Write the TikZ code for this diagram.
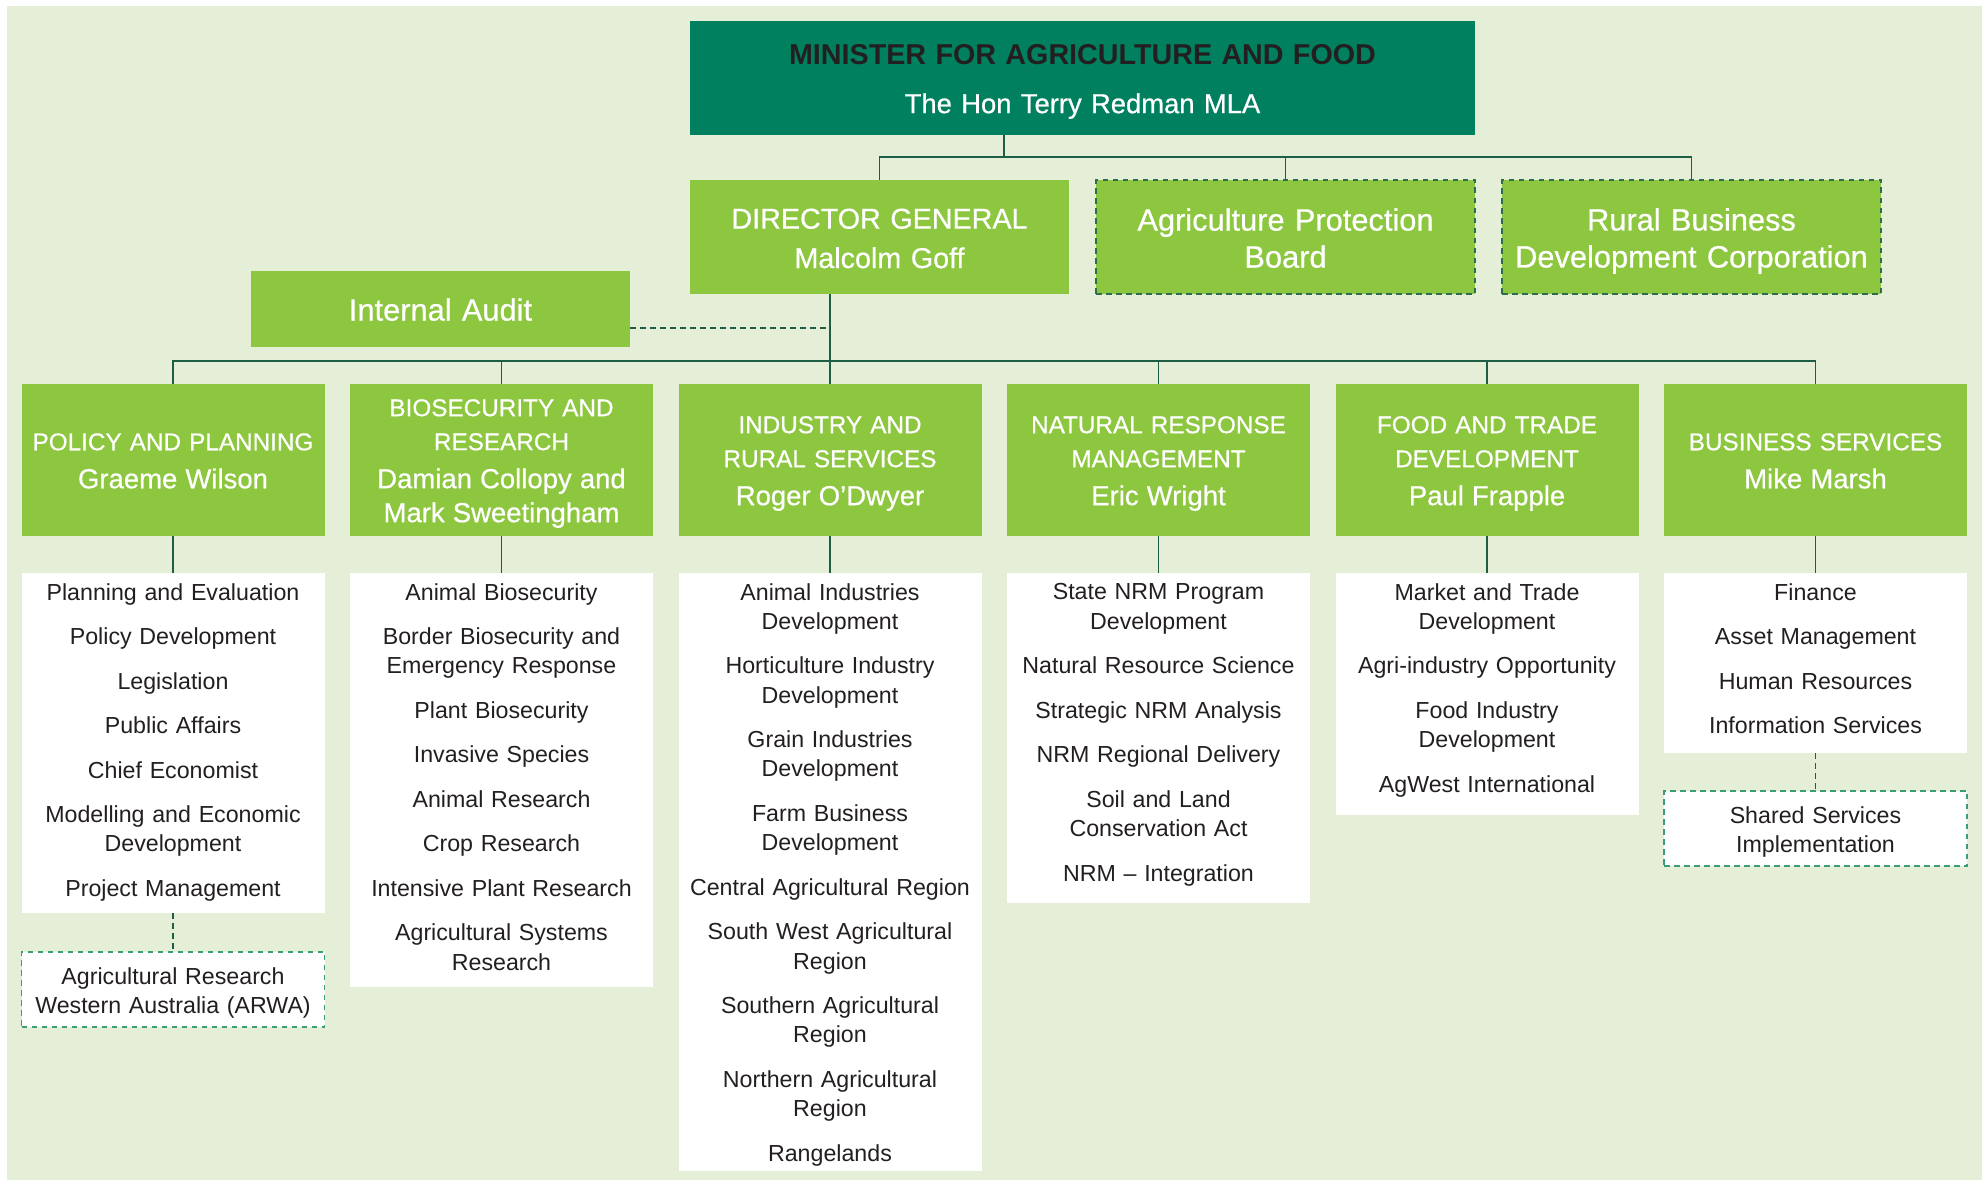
\documentclass[tikz,border=0pt]{standalone}
\usepackage{fontspec}
\setmainfont{Liberation Sans}
\newfontfamily\medfont[FakeBold=0.6]{Liberation Sans}
\usetikzlibrary{calc}

\definecolor{bgc}{HTML}{E5EFD7}
\definecolor{leafgreen}{HTML}{8DC63F}
\definecolor{deepgreen}{HTML}{00805F}
\definecolor{linec}{HTML}{1E5E44}
\definecolor{dashdark}{HTML}{2C6E4E}
\definecolor{dashteal}{HTML}{3A9E74}
\definecolor{inkc}{HTML}{231F20}

% struts: cap height plus descender depth, with a little extra room above the first line
\newcommand\lnstrut{\rule[-0.2em]{0pt}{0.92em}}
\newcommand\firststrut{\rule{0pt}{\dimexpr0.92em+2pt\relax}}
\newcommand\itemgap{\\[15.2pt]}
\newcommand\listfont{\fontsize{23.2}{29.3}\selectfont}
\newcommand\divcapsfont{\medfont\fontsize{24.3}{34}\selectfont}
\newcommand\divnamefont{\medfont\fontsize{27.5}{34}\selectfont}
\newcommand\topfont{\medfont\fontsize{28.7}{39.4}\selectfont}
\newcommand\sidefont{\medfont\fontsize{30.8}{37}\selectfont}

\begin{document}
\begin{tikzpicture}[x=1pt,y=-1pt,
  basebox/.style={rectangle, inner sep=0pt, outer sep=0pt, anchor=north west, align=center},
  minbox/.style={basebox, fill=deepgreen, minimum width=785, minimum height=114, text width=770,
    font=\fontsize{28}{49}\selectfont},
  topbox/.style={basebox, fill=leafgreen, text=white, minimum width=379, minimum height=114, text width=370, font=\topfont},
  sidebox/.style={basebox, fill=leafgreen, text=white, minimum width=379, text width=370, font=\sidefont},
  dashbox/.style={draw=dashdark, line width=1.8pt, dash pattern=on 5.5pt off 4.5pt},
  divbox/.style={basebox, fill=leafgreen, text=white, minimum width=303, minimum height=151.7, text width=296,
    font=\divcapsfont},
  listbox/.style={basebox, fill=white, minimum width=303},
  listtext/.style={rectangle, inner sep=0pt, anchor=north, align=center, text width=300, text=inkc, font=\listfont},
  notebox/.style={basebox, fill=white, draw=dashteal, line width=1.6pt, dash pattern=on 5.5pt off 4.5pt,
    minimum width=303, minimum height=75.5, text width=300, text=inkc, font=\listfont},
  conn/.style={draw=linec, line width=1.8pt},
  dashconn/.style={draw=linec, line width=1.8pt, dash pattern=on 5.5pt off 4.5pt}]

\useasboundingbox (0,0) rectangle (1982,1180);
\fill[bgc] (7,6) rectangle (1982,1180);

% ---- top level ----
\node[minbox] (minister) at (690,21)
  {\color{inkc}\bfseries\fontsize{28.7}{49}\selectfont\rule{0pt}{27pt}MINISTER FOR AGRICULTURE AND FOOD\\
   \color{white}\medfont\mdseries\fontsize{27.4}{49}\selectfont The Hon Terry Redman MLA\lnstrut};

\node[topbox] (dg) at (690,180) {\firststrut DIRECTOR GENERAL\\Malcolm Goff\lnstrut};
\node[sidebox, dashbox, minimum height=114] (apb) at (1096,180) {\firststrut Agriculture Protection\\Board\lnstrut};
\node[sidebox, dashbox, minimum height=114] (rbdc) at (1502,180) {\firststrut Rural Business\\Development Corporation\lnstrut};
\node[sidebox, minimum height=76] (audit) at (251,271) {\rule{0pt}{\dimexpr0.92em+1pt\relax}Internal Audit\lnstrut};

% ---- divisions ----
\node[divbox] (pp) at (21.5,384)
  {\firststrut POLICY AND PLANNING\\[4pt]\divnamefont Graeme Wilson\lnstrut};
\node[divbox] (bio) at (350,384)
  {\firststrut BIOSECURITY AND\\RESEARCH\\[4pt]\divnamefont Damian Collopy and\\Mark Sweetingham\lnstrut};
\node[divbox] (ind) at (678.5,384)
  {\firststrut INDUSTRY AND\\RURAL SERVICES\\[4pt]\divnamefont Roger O’Dwyer\lnstrut};
\node[divbox] (nrm) at (1007,384)
  {\firststrut NATURAL RESPONSE\\MANAGEMENT\\[4pt]\divnamefont Eric Wright\lnstrut};
\node[divbox] (ftd) at (1335.5,384)
  {\firststrut FOOD AND TRADE\\DEVELOPMENT\\[4pt]\divnamefont Paul Frapple\lnstrut};
\node[divbox] (bs) at (1664,384)
  {\firststrut BUSINESS SERVICES\\[4pt]\divnamefont Mike Marsh\lnstrut};

% ---- branch lists ----
\node[listbox, minimum height=340] (pplist) at (21.5,573) {};
\node[listbox, minimum height=413.7] (biolist) at (350,573) {};
\node[listbox, minimum height=597.5] (indlist) at (678.5,573) {};
\node[listbox, minimum height=330] (nrmlist) at (1007,573) {};
\node[listbox, minimum height=241.6] (ftdlist) at (1335.5,573) {};
\node[listbox, minimum height=180] (bslist) at (1664,573) {};

\node[listtext] (ppitems) at ($(pplist.north)+(0,10)$)
  {\lnstrut Planning and Evaluation\itemgap Policy Development\itemgap Legislation\itemgap
   Public Affairs\itemgap Chief Economist\itemgap Modelling and Economic\\Development\itemgap
   Project Management};
\node[listtext] (bioitems) at ($(biolist.north)+(0,10)$)
  {\lnstrut Animal Biosecurity\itemgap Border Biosecurity and\\Emergency Response\itemgap
   Plant Biosecurity\itemgap Invasive Species\itemgap Animal Research\itemgap Crop Research\itemgap
   Intensive Plant Research\itemgap Agricultural Systems\\Research};
\node[listtext] (inditems) at ($(indlist.north)+(0,10)$)
  {\lnstrut Animal Industries\\Development\itemgap Horticulture Industry\\Development\itemgap
   Grain Industries\\Development\itemgap Farm Business\\Development\itemgap
   Central Agricultural Region\itemgap South West Agricultural\\Region\itemgap
   Southern Agricultural\\Region\itemgap Northern Agricultural\\Region\itemgap Rangelands};
\node[listtext] (nrmitems) at ($(nrmlist.north)+(0,10)$)
  {\lnstrut State NRM Program\\Development\itemgap Natural Resource Science\itemgap
   Strategic NRM Analysis\itemgap NRM Regional Delivery\itemgap Soil and Land\\Conservation Act\itemgap
   NRM – Integration};
\node[listtext] (ftditems) at ($(ftdlist.north)+(0,10)$)
  {\lnstrut Market and Trade\\Development\itemgap Agri-industry Opportunity\itemgap
   Food Industry\\Development\itemgap AgWest International};
\node[listtext] (bsitems) at ($(bslist.north)+(0,10)$)
  {\lnstrut Finance\itemgap Asset Management\itemgap Human Resources\itemgap Information Services};

% ---- associated bodies ----
\node[notebox] (arwa) at (21.5,951.7) {\firststrut Agricultural Research\\Western Australia (ARWA)\lnstrut};
\node[notebox] (shared) at (1664,790.7) {\firststrut Shared Services\\Implementation\lnstrut};

% ---- connectors ----
\coordinate (mtap) at (1004,156.7);
\draw[conn] (minister.south -| mtap) -- (mtap);
\draw[conn] (dg.north) |- (mtap) -| (rbdc.north);
\draw[conn] (apb.north) -- (apb.north |- mtap);

\coordinate (bus) at ($(ind.north)+(0,-23)$);
\coordinate (auditrow) at (0,328);
\draw[conn] (dg.south -| ind.north) -- (ind.north);
\draw[conn] (pp.north) |- (bus) -| (bs.north);
\draw[conn] (bio.north) -- (bio.north |- bus);
\draw[conn] (nrm.north) -- (nrm.north |- bus);
\draw[conn] (ftd.north) -- (ftd.north |- bus);
\draw[dashconn] (audit.east |- auditrow) -- (ind.north |- auditrow);

\foreach \d in {pp,bio,ind,nrm,ftd,bs}
  \draw[conn] (\d.south) -- (\d list.north);

\draw[dashconn] (pplist.south) -- (arwa.north);
\draw[dashconn] (bslist.south) -- (shared.north);
\end{tikzpicture}
\end{document}
